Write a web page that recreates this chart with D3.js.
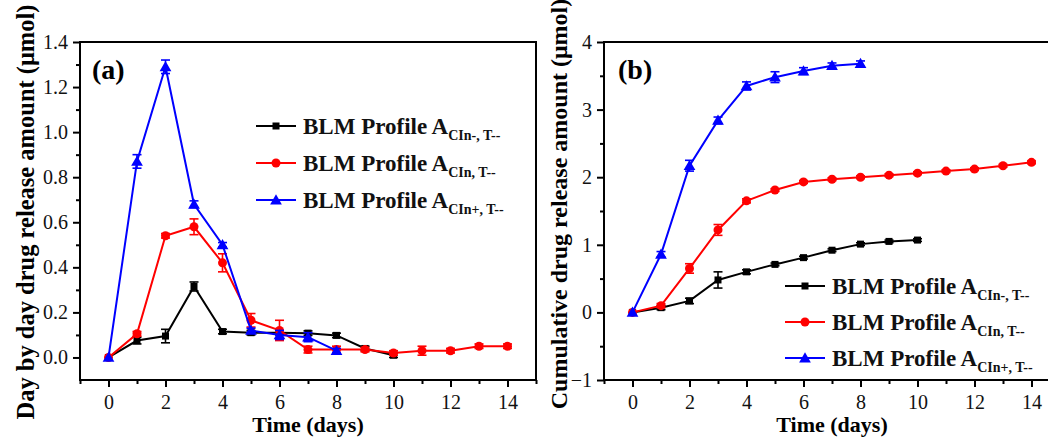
<!DOCTYPE html>
<html>
<head>
<meta charset="utf-8">
<script src="https://cdn.jsdelivr.net/npm/d3@7"></script>
<style>
  html, body { margin: 0; padding: 0; background: #fff; }
  svg { display: block; }
</style>
</head>
<body>
<svg id="chart" width="1048" height="438"></svg>
<script>
// days
const daysBlack = [0, 1, 2, 3, 4, 5, 6, 7, 8, 9, 10];
const daysRed = [0, 1, 2, 3, 4, 5, 6, 7, 8, 9, 10, 11, 12, 13, 14];
const daysBlue = [0, 1, 2, 3, 4, 5, 6, 7, 8];

// (a) day by day release
const dayBlack = [0, 0.075, 0.095, 0.315, 0.115, 0.11, 0.11, 0.108, 0.098, 0.04, 0.01];
const dayBlackErr = [0, 0.015, 0.03, 0.02, 0.01, 0.01, 0.01, 0.01, 0.01, 0.01, 0.01];
const dayRed = [0, 0.105, 0.54, 0.58, 0.42, 0.165, 0.12, 0.035, 0.035, 0.035, 0.02, 0.03, 0.03, 0.05, 0.05];
const dayRedErr = [0, 0.01, 0.01, 0.035, 0.04, 0.03, 0.045, 0.015, 0.015, 0.01, 0.01, 0.02, 0.01, 0.01, 0.01];
const dayBlue = [0, 0.87, 1.29, 0.68, 0.5, 0.12, 0.1, 0.09, 0.03];
const dayBlueErr = [0, 0.03, 0.03, 0.015, 0.01, 0.01, 0.02, 0.02, 0.01];

// (b) cumulative release
const cumBlack = [0, 0.07, 0.17, 0.48, 0.6, 0.71, 0.81, 0.92, 1.01, 1.05, 1.07];
const cumBlackErr = [0, 0.03, 0.04, 0.12, 0.03, 0.02, 0.02, 0.02, 0.02, 0.02, 0.02];
const cumRed = [0, 0.1, 0.65, 1.22, 1.65, 1.81, 1.93, 1.97, 2.0, 2.03, 2.06, 2.09, 2.12, 2.17, 2.22];
const cumRedErr = [0, 0.03, 0.07, 0.08, 0.03, 0.02, 0.02, 0.02, 0.02, 0.02, 0.02, 0.02, 0.02, 0.02, 0.02];
const cumBlue = [0, 0.86, 2.17, 2.84, 3.35, 3.48, 3.57, 3.65, 3.68];
const cumBlueErr = [0, 0.04, 0.08, 0.05, 0.06, 0.08, 0.05, 0.04, 0.04];

const legendSubs = ["CIn-, T--", "CIn, T--", "CIn+, T--"];
const xTicks = [0, 2, 4, 6, 8, 10, 12, 14];
const yTicksA = [0.0, 0.2, 0.4, 0.6, 0.8, 1.0, 1.2, 1.4];
const yTicksB = [-1, 0, 1, 2, 3, 4];

const BLACK = "#000000", RED = "#ff0000", BLUE = "#0000ff";
const FONT = "Liberation Serif";
const svg = d3.select("#chart");

function zip(xs, ys, es) {
  return xs.map((d, i) => ({ x: d, y: ys[i], e: es[i] }));
}

function drawMarker(g, shape, color, cx, cy) {
  if (shape == "square") {
    g.append("rect").attr("x", cx - 3.5).attr("y", cy - 3.5)
      .attr("width", 7).attr("height", 7).attr("fill", color);
  } else if (shape == "circle") {
    g.append("circle").attr("cx", cx).attr("cy", cy).attr("r", 4.5).attr("fill", color);
  } else {
    g.append("path").attr("d", d3.symbol(d3.symbolTriangle, 60)())
      .attr("transform", `translate(${cx},${cy + 1})`).attr("fill", color);
  }
}

function drawPanel(opt) {
  const g = svg.append("g");
  const x = d3.scaleLinear().domain([-1, 15]).range([opt.left, opt.left + 456]);
  const y = d3.scaleLinear().domain(opt.yDomain).range([380, 42]);

  // frame
  g.append("rect").attr("x", x(-1)).attr("y", y(opt.yDomain[1]))
    .attr("width", x(15) - x(-1)).attr("height", y(opt.yDomain[0]) - y(opt.yDomain[1]))
    .attr("fill", "none").attr("stroke", "#000").attr("stroke-width", 2);

  // x axis
  const xAx = g.append("g").attr("transform", "translate(0,380)")
    .call(d3.axisBottom(x).tickValues(xTicks).tickSize(7).tickPadding(8).tickFormat(d3.format("d")));
  g.append("g").attr("transform", "translate(0,380)")
    .call(d3.axisBottom(x).tickValues(d3.range(-1, 16, 2)).tickSize(4).tickFormat(""))
    .call(a => a.select(".domain").remove())
    .selectAll("line").attr("stroke-width", 2);
  xAx.select(".domain").remove();
  xAx.selectAll("line").attr("stroke-width", 2);
  xAx.selectAll("text").style("font-family", FONT).style("font-size", "20px").attr("fill", "#111");

  // y axis
  const yAx = g.append("g").attr("transform", `translate(${x(-1)},0)`)
    .call(d3.axisLeft(y).tickValues(opt.yTicks).tickSize(7).tickPadding(5).tickFormat(opt.yFormat));
  g.append("g").attr("transform", `translate(${x(-1)},0)`)
    .call(d3.axisLeft(y).tickValues(opt.yMinor).tickSize(4).tickFormat(""))
    .call(a => a.select(".domain").remove())
    .selectAll("line").attr("stroke-width", 2);
  yAx.select(".domain").remove();
  yAx.selectAll("line").attr("stroke-width", 2);
  yAx.selectAll("text").style("font-family", FONT).style("font-size", "20px").attr("fill", "#111");

  // axis titles
  g.append("text").attr("x", (x(-1) + x(15)) / 2).attr("y", 432)
    .attr("text-anchor", "middle").style("font-family", FONT)
    .style("font-weight", "bold").style("font-size", "22px")
    .text("Time (days)");
  g.append("text").attr("transform", `translate(${opt.titleX},${opt.titleY}) rotate(-90)`)
    .attr("text-anchor", "middle").style("font-family", FONT)
    .style("font-weight", "bold").style("font-size", opt.titleSize + "px")
    .text(opt.yTitle);

  // panel label
  g.append("text").attr("x", opt.left + opt.labelDx).attr("y", 79)
    .style("font-family", FONT).style("font-weight", "bold").style("font-size", "28px")
    .text(opt.label);

  const line = d3.line().x(d => x(d.x)).y(d => y(d.y));
  opt.series.forEach(s => {
    const sg = g.append("g");
    sg.append("path").datum(s.data).attr("d", line)
      .attr("fill", "none").attr("stroke", s.color).attr("stroke-width", 2);
    s.data.forEach(d => {
      if (d.e > 0) {
        const eb = sg.append("g").attr("stroke", s.color).attr("stroke-width", 1.6);
        eb.append("line").attr("x1", x(d.x)).attr("x2", x(d.x))
          .attr("y1", y(d.y - d.e)).attr("y2", y(d.y + d.e));
        [d.y - d.e, d.y + d.e].forEach(v => {
          eb.append("line").attr("x1", x(d.x) - 4.5).attr("x2", x(d.x) + 4.5)
            .attr("y1", y(v)).attr("y2", y(v));
        });
      }
      drawMarker(sg, s.shape, s.color, x(d.x), y(d.y));
    });
  });

  // legend
  const lg = g.append("g");
  opt.series.forEach((s, i) => {
    const ly = opt.legendY + i * opt.legendGap;
    lg.append("line").attr("x1", opt.legendX).attr("x2", opt.legendX + 40)
      .attr("y1", ly).attr("y2", ly).attr("stroke", s.color).attr("stroke-width", 2);
    drawMarker(lg, s.shape, s.color, opt.legendX + 20, ly);
    const t = lg.append("text").attr("x", opt.legendX + 47).attr("y", ly + 8)
      .style("font-family", FONT).style("font-weight", "bold").style("font-size", "23px")
      .attr("fill", "#111");
    t.append("tspan").text("BLM Profile A");
    t.append("tspan").attr("dy", 6).style("font-size", "14px").text(legendSubs[i]);
  });
}

drawPanel({
  left: 80,
  yDomain: [-0.1, 1.4],
  yTicks: yTicksA,
  yMinor: d3.range(0.1, 1.4, 0.2),
  yFormat: d3.format(".1f"),
  yTitle: "Day by day drug release amount (\u03bcmol)",
  titleX: 34, titleY: 212, titleSize: 24.5,
  label: "(a)", labelDx: 12,
  legendX: 256, legendY: 126, legendGap: 37,
  series: [
    { color: BLACK, shape: "square", data: zip(daysBlack, dayBlack, dayBlackErr) },
    { color: RED, shape: "circle", data: zip(daysRed, dayRed, dayRedErr) },
    { color: BLUE, shape: "triangle", data: zip(daysBlue, dayBlue, dayBlueErr) }
  ]
});

drawPanel({
  left: 604,
  yDomain: [-1, 4],
  yTicks: yTicksB,
  yMinor: d3.range(-0.5, 4, 1),
  yFormat: d3.format("d"),
  yTitle: "Cumulative drug release amount (\u03bcmol)",
  titleX: 567, titleY: 204, titleSize: 24,
  label: "(b)", labelDx: 14,
  legendX: 785, legendY: 286, legendGap: 36,
  series: [
    { color: BLACK, shape: "square", data: zip(daysBlack, cumBlack, cumBlackErr) },
    { color: RED, shape: "circle", data: zip(daysRed, cumRed, cumRedErr) },
    { color: BLUE, shape: "triangle", data: zip(daysBlue, cumBlue, cumBlueErr) }
  ]
});
</script>
</body>
</html>
